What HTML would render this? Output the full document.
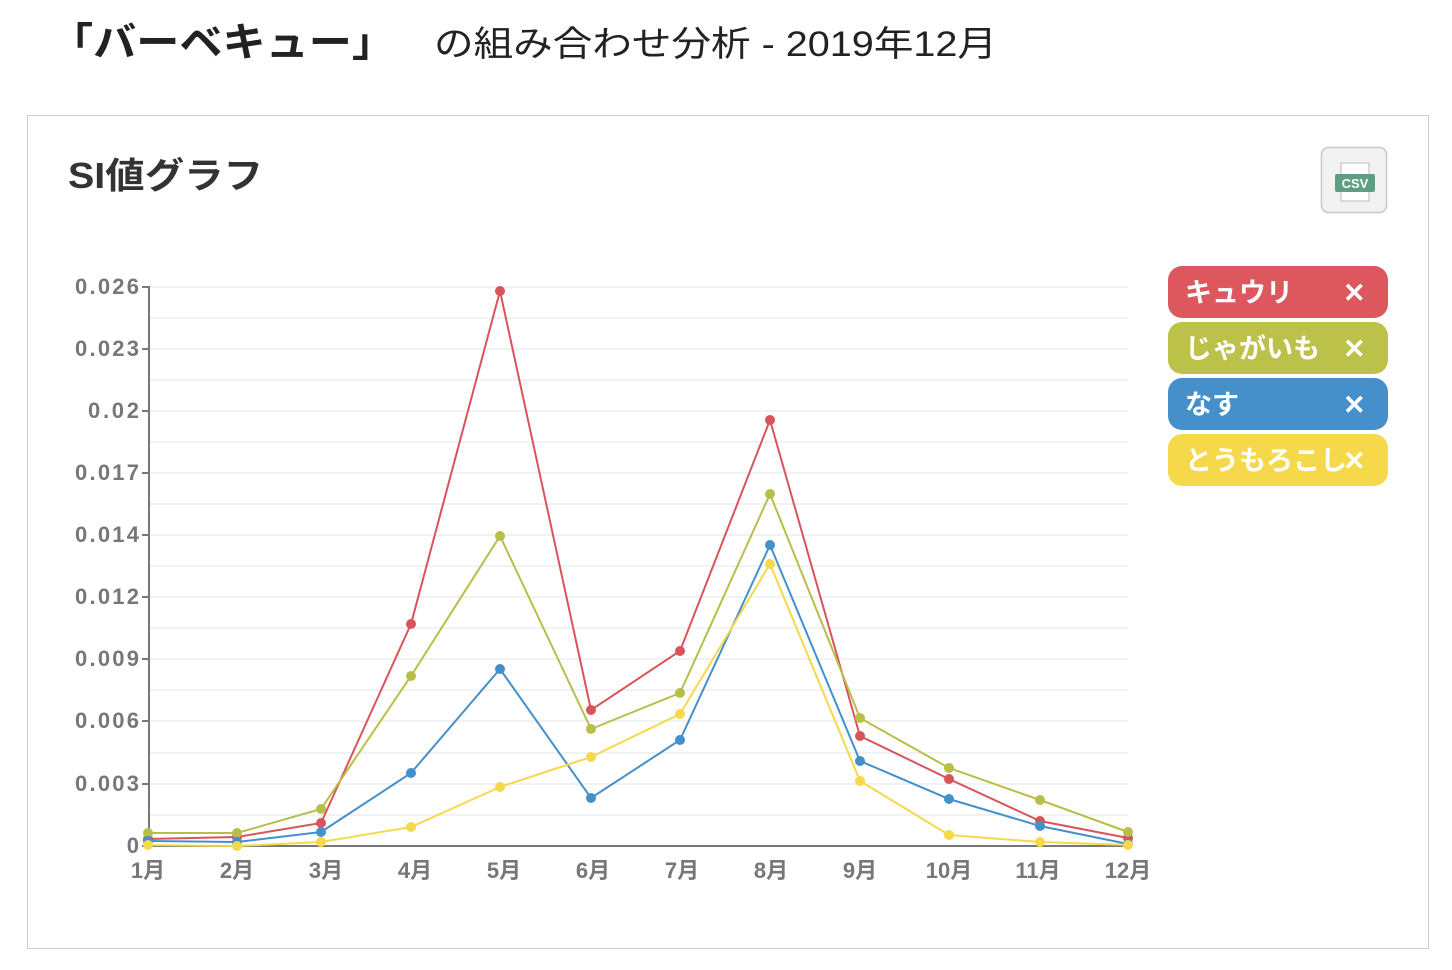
<!DOCTYPE html>
<html><head><meta charset="utf-8"><style>
body{margin:0;width:1452px;height:970px;background:#fff;font-family:"Liberation Sans","Noto Sans CJK JP",sans-serif;overflow:hidden}
</style></head><body>
<svg width="1452" height="970" xmlns="http://www.w3.org/2000/svg" style="position:absolute;left:0;top:0;font-family:'Liberation Sans','Noto Sans CJK JP',sans-serif">
<text x="50" y="56" font-size="40" font-weight="bold" fill="#222" textLength="345" lengthAdjust="spacingAndGlyphs">「バーベキュー」</text>
<text x="434" y="56" font-size="35" fill="#222" textLength="563" lengthAdjust="spacingAndGlyphs">の組み合わせ分析 - 2019年12月</text>
<rect x="27.5" y="115.5" width="1401" height="833" fill="#fff" stroke="#ccc"/>
<text x="68" y="188" font-size="36" font-weight="bold" fill="#333" textLength="195" lengthAdjust="spacingAndGlyphs">SI値グラフ</text>
<rect x="1321.5" y="147.5" width="65" height="65" rx="7" fill="#f2f2f2" stroke="#c8c8c8" stroke-width="1.5"/>
<rect x="1341" y="163" width="28" height="38" fill="#fff" stroke="#bbb"/>
<rect x="1335" y="174" width="40" height="18" rx="2" fill="#5e9e85"/>
<text x="1355" y="188" font-size="13" font-weight="bold" fill="#fff" text-anchor="middle">CSV</text>
<g stroke="#e6e6e6" stroke-width="1">
<line x1="149" x2="1128" y1="287" y2="287"/><line x1="149" x2="1128" y1="318" y2="318"/><line x1="149" x2="1128" y1="349" y2="349"/><line x1="149" x2="1128" y1="380" y2="380"/><line x1="149" x2="1128" y1="411" y2="411"/><line x1="149" x2="1128" y1="442" y2="442"/><line x1="149" x2="1128" y1="473" y2="473"/><line x1="149" x2="1128" y1="504" y2="504"/><line x1="149" x2="1128" y1="535" y2="535"/><line x1="149" x2="1128" y1="566" y2="566"/><line x1="149" x2="1128" y1="597" y2="597"/><line x1="149" x2="1128" y1="628" y2="628"/><line x1="149" x2="1128" y1="659" y2="659"/><line x1="149" x2="1128" y1="690" y2="690"/><line x1="149" x2="1128" y1="721" y2="721"/><line x1="149" x2="1128" y1="753" y2="753"/><line x1="149" x2="1128" y1="784" y2="784"/><line x1="149" x2="1128" y1="815" y2="815"/>
</g>
<g stroke="#777" stroke-width="2" fill="none">
<line x1="149" y1="286" x2="149" y2="847"/><line x1="148" y1="846" x2="1128" y2="846"/>
<path d="M142 287h7M142 349h7M142 411h7M142 473h7M142 535h7M142 597h7M142 659h7M142 721h7M142 784h7M142 846h7"/>
</g>
<g font-size="22" font-weight="bold" fill="#777" text-anchor="end" lengthAdjust="spacingAndGlyphs">
<text x="139" y="294" textLength="64">0.026</text><text x="139" y="356" textLength="64">0.023</text><text x="139" y="418" textLength="51">0.02</text><text x="139" y="480" textLength="64">0.017</text><text x="139" y="542" textLength="64">0.014</text><text x="139" y="604" textLength="64">0.012</text><text x="139" y="666" textLength="64">0.009</text><text x="139" y="728" textLength="64">0.006</text><text x="139" y="791" textLength="64">0.003</text><text x="139" y="853" textLength="15">0</text>
</g>
<g font-size="22" font-weight="bold" fill="#777" text-anchor="middle">
<text x="148" y="878">1月</text><text x="237" y="878">2月</text><text x="326" y="878">3月</text><text x="415" y="878">4月</text><text x="504" y="878">5月</text><text x="593" y="878">6月</text><text x="682" y="878">7月</text><text x="771" y="878">8月</text><text x="860" y="878">9月</text><text x="949" y="878">10月</text><text x="1038" y="878">11月</text><text x="1128" y="878">12月</text>
</g>
<g fill="none" stroke-width="2">
<polyline stroke="#d9545a" points="148,839 237,837 321,823 411,624 500,291 591,710 680,651 770,420 860,736 949,779 1040,821 1128,838"/>
<polyline stroke="#b8be4a" points="148,833 237,833 321,809 411,676 500,536 591,729 680,693 770,494 860,718 949,768 1040,800 1128,832"/>
<polyline stroke="#4490cb" points="148,841 237,842 321,832 411,773 500,669 591,798 680,740 770,545 860,761 949,799 1040,826 1128,844"/>
<polyline stroke="#f5d94a" points="148,845 237,846 321,842 411,827 500,787 591,757 680,714 770,564 860,781 949,835 1040,842 1128,845"/>
</g>
<g fill="#d9545a"><circle cx="148" cy="839" r="5"/><circle cx="237" cy="837" r="5"/><circle cx="321" cy="823" r="5"/><circle cx="411" cy="624" r="5"/><circle cx="500" cy="291" r="5"/><circle cx="591" cy="710" r="5"/><circle cx="680" cy="651" r="5"/><circle cx="770" cy="420" r="5"/><circle cx="860" cy="736" r="5"/><circle cx="949" cy="779" r="5"/><circle cx="1040" cy="821" r="5"/><circle cx="1128" cy="838" r="5"/></g>
<g fill="#b8be4a"><circle cx="148" cy="833" r="5"/><circle cx="237" cy="833" r="5"/><circle cx="321" cy="809" r="5"/><circle cx="411" cy="676" r="5"/><circle cx="500" cy="536" r="5"/><circle cx="591" cy="729" r="5"/><circle cx="680" cy="693" r="5"/><circle cx="770" cy="494" r="5"/><circle cx="860" cy="718" r="5"/><circle cx="949" cy="768" r="5"/><circle cx="1040" cy="800" r="5"/><circle cx="1128" cy="832" r="5"/></g>
<g fill="#4490cb"><circle cx="148" cy="841" r="5"/><circle cx="237" cy="842" r="5"/><circle cx="321" cy="832" r="5"/><circle cx="411" cy="773" r="5"/><circle cx="500" cy="669" r="5"/><circle cx="591" cy="798" r="5"/><circle cx="680" cy="740" r="5"/><circle cx="770" cy="545" r="5"/><circle cx="860" cy="761" r="5"/><circle cx="949" cy="799" r="5"/><circle cx="1040" cy="826" r="5"/><circle cx="1128" cy="844" r="5"/></g>
<g fill="#f5d94a"><circle cx="148" cy="845" r="5"/><circle cx="237" cy="846" r="5"/><circle cx="321" cy="842" r="5"/><circle cx="411" cy="827" r="5"/><circle cx="500" cy="787" r="5"/><circle cx="591" cy="757" r="5"/><circle cx="680" cy="714" r="5"/><circle cx="770" cy="564" r="5"/><circle cx="860" cy="781" r="5"/><circle cx="949" cy="835" r="5"/><circle cx="1040" cy="842" r="5"/><circle cx="1128" cy="845" r="5"/></g>
<g font-size="27" font-weight="bold" fill="#fff">
<rect x="1168" y="266" width="220" height="52" rx="14" fill="#dc585e"/><text x="1185" y="302">キュウリ</text><text x="1343" y="302">✕</text>
<rect x="1168" y="322" width="220" height="52" rx="14" fill="#bcc14a"/><text x="1185" y="358">じゃがいも</text><text x="1343" y="358">✕</text>
<rect x="1168" y="378" width="220" height="52" rx="14" fill="#4590cb"/><text x="1185" y="414">なす</text><text x="1343" y="414">✕</text>
<rect x="1168" y="434" width="220" height="52" rx="14" fill="#f6d94a"/><text x="1185" y="470">とうもろこし</text><text x="1343" y="470">✕</text>
</g>
</svg>
</body></html>
